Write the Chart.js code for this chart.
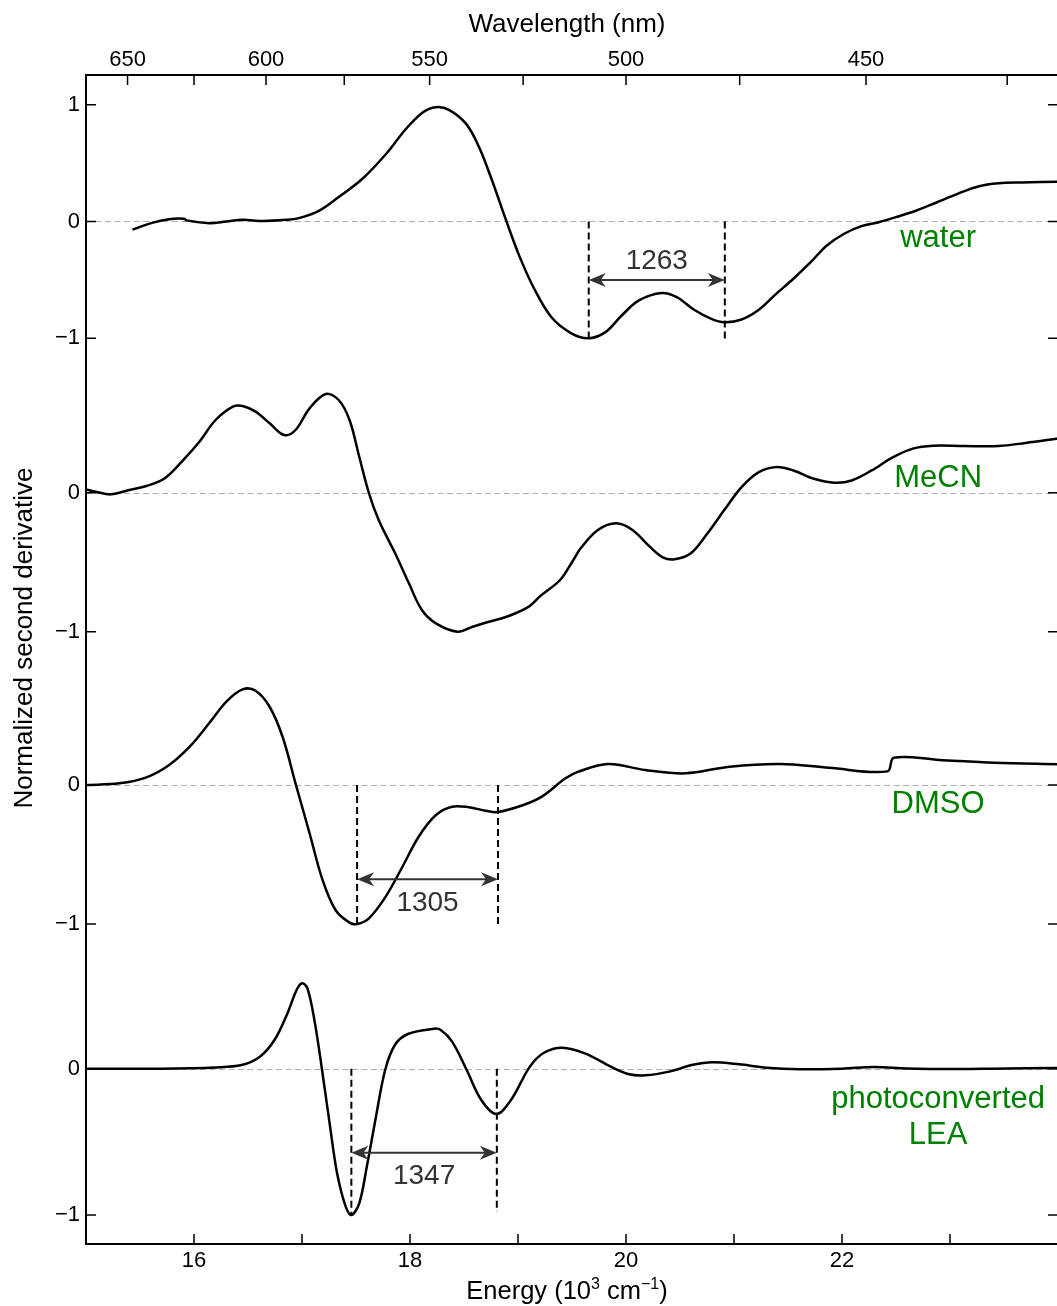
<!DOCTYPE html>
<html>
<head>
<meta charset="utf-8">
<script src="https://cdn.jsdelivr.net/npm/chart.js@4.4.1/dist/chart.umd.min.js"></script>
<style>
  html, body { margin: 0; padding: 0; overflow: hidden; background: #fff; }
  canvas { display: block; }
</style>
</head>
<body>
<canvas id="chart" width="1062" height="1306"></canvas>
<script>
// energy axis (10^3 cm^-1) and wavelength ticks on top
const energyMin = 15;
const energyMax = 24;
const energyLabels = [16, 18, 20, 22];
const wavelengthLabels = [650, 600, 550, 500, 450];
const wavelengthMinor = [650, 625, 600, 575, 550, 525, 500, 475, 450, 425];

// normalized second derivative spectra
const waterE = [15.43, 15.62, 15.77, 15.91, 15.93, 16.14, 16.30, 16.45, 16.64, 16.85, 16.97, 17.16, 17.34, 17.56, 17.78, 17.96, 18.12, 18.24, 18.36, 18.52, 18.64, 18.76, 18.89, 19.01, 19.15, 19.31, 19.49, 19.65, 19.81, 19.96, 20.12, 20.33, 20.47, 20.63, 20.79, 20.91, 21.07, 21.23, 21.39, 21.55, 21.71, 21.86, 22.02, 22.18, 22.34, 22.50, 22.69, 22.88, 23.07, 23.26, 23.45, 23.67, 24.0];
const waterV = [-0.07, -0.01, 0.02, 0.023, 0.01, -0.014, 0.0, 0.014, 0.004, 0.014, 0.029, 0.094, 0.21, 0.366, 0.58, 0.79, 0.936, 0.979, 0.956, 0.836, 0.636, 0.351, 0.009, -0.29, -0.576, -0.82, -0.955, -1.0, -0.947, -0.805, -0.676, -0.613, -0.648, -0.756, -0.833, -0.862, -0.839, -0.756, -0.62, -0.49, -0.348, -0.205, -0.105, -0.04, -0.006, 0.037, 0.094, 0.165, 0.237, 0.30, 0.328, 0.334, 0.34];

const mecnE = [15.0, 15.09, 15.23, 15.40, 15.56, 15.73, 15.90, 16.05, 16.20, 16.36, 16.45, 16.57, 16.70, 16.835, 16.94, 17.07, 17.22, 17.34, 17.44, 17.53, 17.62, 17.71, 17.87, 17.99, 18.11, 18.24, 18.44, 18.58, 18.73, 18.915, 19.10, 19.20, 19.39, 19.50, 19.58, 19.74, 19.91, 20.06, 20.22, 20.34, 20.45, 20.60, 20.755, 20.91, 21.07, 21.23, 21.39, 21.55, 21.74, 21.93, 22.09, 22.275, 22.465, 22.655, 22.845, 23.13, 23.45, 23.70, 24.0];
const mecnV = [0.024, 0.007, -0.012, 0.019, 0.048, 0.104, 0.235, 0.367, 0.523, 0.619, 0.624, 0.583, 0.499, 0.415, 0.451, 0.607, 0.71, 0.667, 0.523, 0.259, -0.004, -0.196, -0.448, -0.652, -0.844, -0.94, -1.0, -0.964, -0.928, -0.887, -0.82, -0.748, -0.628, -0.50, -0.40, -0.268, -0.22, -0.268, -0.388, -0.465, -0.479, -0.436, -0.292, -0.125, 0.04, 0.148, 0.184, 0.16, 0.10, 0.072, 0.088, 0.16, 0.252, 0.317, 0.338, 0.336, 0.336, 0.358, 0.39];

const dmsoE = [15.0, 15.31, 15.56, 15.77, 15.96, 16.14, 16.30, 16.45, 16.57, 16.70, 16.82, 16.94, 17.07, 17.19, 17.31, 17.44, 17.51, 17.62, 17.775, 17.93, 18.08, 18.24, 18.39, 18.545, 18.70, 18.81, 19.05, 19.22, 19.44, 19.56, 19.835, 20.175, 20.55, 20.96, 21.43, 21.88, 22.42, 22.48, 22.90, 23.41, 24.0];
const dmsoV = [0.0, 0.012, 0.055, 0.144, 0.276, 0.444, 0.60, 0.688, 0.678, 0.563, 0.347, 0.012, -0.347, -0.683, -0.899, -0.99, -1.0, -0.959, -0.803, -0.588, -0.372, -0.216, -0.156, -0.16, -0.185, -0.195, -0.144, -0.084, 0.048, 0.096, 0.151, 0.108, 0.084, 0.132, 0.151, 0.124, 0.098, 0.196, 0.18, 0.16, 0.149];

const leaE = [15.0, 15.69, 16.20, 16.44, 16.61, 16.745, 16.865, 16.95, 17.00, 17.05, 17.12, 17.19, 17.26, 17.325, 17.40, 17.457, 17.53, 17.60, 17.685, 17.77, 17.86, 17.98, 18.22, 18.285, 18.39, 18.525, 18.66, 18.80, 18.935, 19.11, 19.24, 19.41, 19.62, 19.86, 20.03, 20.18, 20.40, 20.62, 20.80, 21.05, 21.30, 21.60, 22.00, 22.30, 22.60, 23.08, 23.39, 24.0];
const leaV = [0.0, 0.0, 0.009, 0.025, 0.082, 0.196, 0.378, 0.538, 0.584, 0.55, 0.31, -0.031, -0.396, -0.715, -0.932, -1.0, -0.92, -0.67, -0.328, -0.009, 0.162, 0.237, 0.273, 0.265, 0.185, -0.009, -0.214, -0.31, -0.214, 0.014, 0.109, 0.144, 0.105, 0.014, -0.038, -0.045, -0.02, 0.027, 0.044, 0.03, 0.007, -0.004, 0.0, 0.012, 0.002, -0.002, 0.0, 0.005];

const panelNames = ['water', 'MeCN', 'DMSO', 'photoconverted\nLEA'];
const panelTicks = [[1, 0, -1], [0, -1], [0, -1], [0, -1]];

// vibronic splittings (cm^-1) marked between two minima
const splitPanel = [0, 2, 3];
const splitFrom = [19.655, 17.51, 17.457];
const splitTo = [20.915, 18.815, 18.804];
const splitLabels = ['1263', '1305', '1347'];

// ---- layout ----
const PLOT_H = 1169;                       // plot height in y-axis units (1 unit = 1 px)
const panelZero = [1022.5, 751.3, 459, 175.3];  // zero line of each trace
const panelUnit = [116.8, 139, 139, 146.3];     // px per unit of each trace
const splitLineBottom = [[-1.02, -1.02], [-1.0, -1.0], [-1.0, -0.98]];
const splitArrowY = [-0.50, -0.678, -0.574];
const splitTextY = [-0.404, -0.904, -0.788];
const labelE = 22.89;
const labelY = [[-0.22], [0.043], [-0.204], [-0.269, -0.515]];

const FONT = '"Liberation Sans", Arial, Helvetica, sans-serif';
const GREEN = '#008000';

const toY = (p, v) => panelZero[p] + panelUnit[p] * v;
const series = [[waterE, waterV], [mecnE, mecnV], [dmsoE, dmsoV], [leaE, leaV]];

const datasets = series.map(([es, vs], p) => ({
    label: panelNames[p],
    data: es.map((e, i) => ({ x: e, y: toY(p, vs[i]) })),
    xAxisID: 'x',
    yAxisID: 'y',
    borderColor: '#000',
    borderWidth: 2.5,
    pointRadius: 0,
    tension: 0.35,
    fill: false
}));

const fmt = v => (v < 0 ? '\u2212' + Math.abs(v) : String(v));

function arrowHead(ctx, tipX, y, dir) {
    const L = 17, W = 7, notch = 5;
    ctx.beginPath();
    ctx.moveTo(tipX, y);
    ctx.lineTo(tipX - dir * L, y - W);
    ctx.lineTo(tipX - dir * (L - notch), y);
    ctx.lineTo(tipX - dir * L, y + W);
    ctx.closePath();
    ctx.fill();
}

function drawParts(ctx, parts, cx, baseY) {
    let w = 0;
    parts.forEach(pt => { ctx.font = pt.sup ? '16px ' + FONT : '25.5px ' + FONT; pt.w = ctx.measureText(pt.t).width; w += pt.w; });
    let x = cx - w / 2;
    ctx.textAlign = 'left';
    parts.forEach(pt => {
        ctx.font = pt.sup ? '16px ' + FONT : '25.5px ' + FONT;
        ctx.fillText(pt.t, x, pt.sup ? baseY - 10 : baseY);
        x += pt.w;
    });
}

const decor = {
    id: 'decor',
    beforeDatasetsDraw(chart) {
        const { ctx, chartArea: a, scales: { y } } = chart;
        ctx.save();
        ctx.strokeStyle = '#b0b0b0';
        ctx.lineWidth = 1;
        ctx.setLineDash([6, 3.5]);
        panelZero.forEach(z => {
            const py = Math.round(y.getPixelForValue(z)) + 0.5;
            ctx.beginPath(); ctx.moveTo(a.left, py); ctx.lineTo(a.right, py); ctx.stroke();
        });
        ctx.restore();
    },
    afterDatasetsDraw(chart) {
        const { ctx, scales: { x, y } } = chart;
        ctx.save();
        splitPanel.forEach((p, k) => {
            const x1 = x.getPixelForValue(splitFrom[k]);
            const x2 = x.getPixelForValue(splitTo[k]);
            const y0 = y.getPixelForValue(toY(p, 0));
            // dashed guide lines
            ctx.strokeStyle = '#000';
            ctx.lineWidth = 2;
            ctx.setLineDash([7, 4]);
            [x1, x2].forEach((px, j) => {
                ctx.beginPath();
                ctx.moveTo(px, y0);
                ctx.lineTo(px, y.getPixelForValue(toY(p, splitLineBottom[k][j])));
                ctx.stroke();
            });
            // double arrow
            ctx.setLineDash([]);
            const ay = y.getPixelForValue(toY(p, splitArrowY[k]));
            ctx.strokeStyle = '#333';
            ctx.fillStyle = '#333';
            ctx.beginPath(); ctx.moveTo(x1 + 8, ay); ctx.lineTo(x2 - 8, ay); ctx.stroke();
            arrowHead(ctx, x1, ay, -1);
            arrowHead(ctx, x2, ay, 1);
            // value
            ctx.font = '28px ' + FONT;
            ctx.textAlign = 'center';
            ctx.textBaseline = 'alphabetic';
            ctx.fillText(splitLabels[k], (x1 + x2) / 2, y.getPixelForValue(toY(p, splitTextY[k])));
        });
        ctx.restore();
    },
    afterDraw(chart) {
        const { ctx, chartArea: a, scales: { x, xTop, y } } = chart;
        ctx.save();
        // frame
        ctx.strokeStyle = '#000';
        ctx.lineWidth = 2;
        ctx.strokeRect(a.left, a.top, a.right - a.left, a.bottom - a.top);
        // inward tick marks
        ctx.lineWidth = 1.5;
        ctx.beginPath();
        y.ticks.forEach(t => {
            const py = y.getPixelForValue(t.value);
            ctx.moveTo(a.left, py); ctx.lineTo(a.left + 10, py);
            ctx.moveTo(a.right, py); ctx.lineTo(a.right - 10, py);
        });
        x.ticks.forEach(t => {
            if (t.value <= energyMin || t.value >= energyMax) return;
            const px = x.getPixelForValue(t.value);
            ctx.moveTo(px, a.bottom); ctx.lineTo(px, a.bottom - 10);
        });
        wavelengthMinor.forEach(w => {
            const px = xTop.getPixelForValue(1e4 / w);
            ctx.moveTo(px, a.top); ctx.lineTo(px, a.top + 10);
        });
        ctx.stroke();
        // axis titles
        ctx.fillStyle = '#000';
        ctx.textBaseline = 'alphabetic';
        ctx.textAlign = 'center';
        ctx.font = '26px ' + FONT;
        ctx.fillText('Wavelength (nm)', 567, 32);
        drawParts(ctx, [{ t: 'Energy (10' }, { t: '3', sup: true }, { t: ' cm' }, { t: '\u22121', sup: true }, { t: ')' }], 567, 1299);
        ctx.save();
        ctx.translate(32, 638);
        ctx.rotate(-Math.PI / 2);
        ctx.textAlign = 'center';
        ctx.font = '26px ' + FONT;
        ctx.fillText('Normalized second derivative', 0, 0);
        ctx.restore();
        // trace labels
        ctx.fillStyle = GREEN;
        ctx.font = '31px ' + FONT;
        ctx.textAlign = 'center';
        panelNames.forEach((name, p) => {
            name.split('\n').forEach((line, j) => {
                ctx.fillText(line, x.getPixelForValue(labelE), y.getPixelForValue(toY(p, labelY[p][j])));
            });
        });
        ctx.restore();
    }
};

const tickFont = { family: FONT, size: 22 };

new Chart(document.getElementById('chart').getContext('2d'), {
    type: 'line',
    data: { datasets },
    options: {
        responsive: false,
        animation: false,
        events: [],
        layout: { padding: { left: 0, right: 3, top: 0, bottom: 0 } },
        plugins: { legend: { display: false }, tooltip: { enabled: false } },
        scales: {
            x: {
                type: 'linear', position: 'bottom', min: energyMin, max: energyMax,
                grid: { display: false, drawTicks: false }, border: { display: false },
                ticks: {
                    stepSize: 1, autoSkip: false, maxRotation: 0, padding: 4, color: '#000', font: tickFont,
                    callback: v => (energyLabels.includes(v) ? String(v) : '')
                },
                afterFit: s => { s.height = 62; }
            },
            xTop: {
                type: 'linear', axis: 'x', position: 'top', min: energyMin, max: energyMax,
                grid: { display: false, drawTicks: false }, border: { display: false },
                afterBuildTicks: s => { s.ticks = wavelengthLabels.map(w => ({ value: 1e4 / w })); },
                ticks: {
                    autoSkip: false, maxRotation: 0, padding: 2, color: '#000', font: tickFont,
                    callback: v => String(Math.round(1e4 / v))
                },
                afterFit: s => { s.height = 75; }
            },
            y: {
                type: 'linear', position: 'left', min: 0, max: PLOT_H,
                grid: { display: false, drawTicks: false }, border: { display: false },
                afterBuildTicks: s => {
                    const t = [];
                    panelTicks.forEach((vals, p) => vals.forEach(v => t.push({ value: toY(p, v), lab: fmt(v) })));
                    s.ticks = t;
                },
                ticks: {
                    autoSkip: false, padding: 6, color: '#000', font: tickFont,
                    callback: (v, i, ticks) => ticks[i].lab
                },
                afterFit: s => { s.width = 86; }
            }
        }
    },
    plugins: [decor]
});
</script>
</body>
</html>
